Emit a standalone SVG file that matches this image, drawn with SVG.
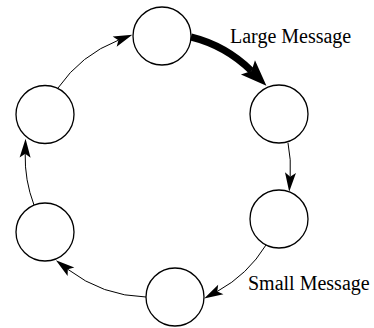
<svg xmlns="http://www.w3.org/2000/svg" width="374" height="328" viewBox="0 0 374 328">
  <style>
    .node { fill: #fff; stroke: #000; stroke-width: 1.3; }
    .edge { fill: none; stroke: #000; stroke-width: 1; marker-end: url(#head); }
    .edge.large { stroke-width: 7; marker-end: url(#bighead); }
    .label { font-family: "Liberation Serif", "Times New Roman", serif; font-size: 20px; fill: #000; }
  </style>
  <defs>
    <!-- notched arrowheads; the line ends at the notch (0,0) -->
    <marker id="head" markerUnits="userSpaceOnUse" markerWidth="40" markerHeight="40" refX="0" refY="0" orient="auto" overflow="visible">
      <path d="M15,0 L-4,-5.5 L0,0 L-4,5.5 Z" fill="#000"/>
    </marker>
    <marker id="bighead" markerUnits="userSpaceOnUse" markerWidth="60" markerHeight="60" refX="0" refY="0" orient="auto" overflow="visible">
      <path d="M21,0 L-5,-10 L0,0 L-5,10 Z" fill="#000"/>
    </marker>
  </defs>

  <g id="connectors">
    <path class="edge large" d="M191,37 A131,131 0 0 1 251.5,71"/>
    <path class="edge" d="M288,143 A128.5,128.5 0 0 1 290.2,176.7"/>
    <path class="edge" d="M266,245 A131,131 0 0 1 217.3,291.4"/>
    <path class="edge" d="M146,297 A134,134 0 0 1 67.8,269.3"/>
    <path class="edge" d="M34,205 A135,135 0 0 1 25.2,153.7"/>
    <path class="edge" d="M58,88 A132,132 0 0 1 118.4,40.2"/>
  </g>

  <g id="n-top"><circle class="node" cx="162" cy="36" r="29"/></g>
  <g id="n-right-upper"><circle class="node" cx="279" cy="114" r="29"/></g>
  <g id="n-right-lower"><circle class="node" cx="279" cy="219" r="29"/></g>
  <g id="n-bottom"><circle class="node" cx="175" cy="297" r="29"/></g>
  <g id="n-left-lower"><circle class="node" cx="45" cy="232" r="29"/></g>
  <g id="n-left-upper"><circle class="node" cx="45" cy="114.5" r="29"/></g>

  <g id="labels">
    <text class="label" x="230" y="43">Large Message</text>
    <text class="label" x="248" y="290">Small Message</text>
  </g>
</svg>
